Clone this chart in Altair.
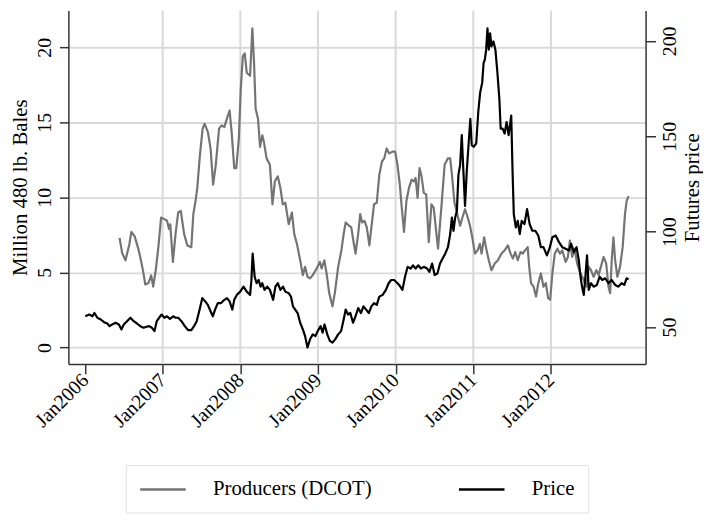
import altair as alt
import pandas as pd

# ---- data (decimal year, value) ----
producers = [
    (2006.445, 7.3), (2006.478, 6.3), (2006.521, 5.8), (2006.572, 6.9), (2006.597, 7.7),
    (2006.640, 7.4), (2006.690, 6.5), (2006.725, 5.7), (2006.754, 4.9), (2006.776, 4.2),
    (2006.818, 4.3), (2006.852, 4.8), (2006.878, 4.05), (2006.911, 5.15), (2006.945, 6.7),
    (2006.980, 8.66), (2007.022, 8.55), (2007.056, 8.44), (2007.082, 7.9), (2007.098, 8.2),
    (2007.132, 5.7), (2007.166, 7.57), (2007.200, 9.0), (2007.234, 9.1), (2007.276, 7.57),
    (2007.318, 6.8), (2007.369, 6.68), (2007.395, 8.88), (2007.420, 9.64), (2007.446, 10.63),
    (2007.480, 12.83), (2007.515, 14.58), (2007.540, 14.9), (2007.582, 14.36), (2007.617, 13.26),
    (2007.650, 10.85), (2007.684, 12.17), (2007.726, 14.58), (2007.760, 14.8), (2007.795, 14.69),
    (2007.820, 15.13), (2007.862, 15.79), (2007.888, 14.36), (2007.922, 11.95), (2007.948, 11.95),
    (2007.981, 13.92), (2008.006, 17.21), (2008.032, 19.4), (2008.057, 19.6), (2008.083, 18.3),
    (2008.126, 18.1), (2008.155, 21.27), (2008.177, 18.97), (2008.197, 15.9), (2008.228, 15.24),
    (2008.254, 13.37), (2008.283, 14.14), (2008.304, 13.7), (2008.338, 12.6), (2008.381, 12.17),
    (2008.414, 9.54), (2008.445, 11.07), (2008.483, 11.4), (2008.516, 10.63), (2008.547, 9.54),
    (2008.580, 9.64), (2008.623, 8.22), (2008.665, 8.99), (2008.694, 7.57), (2008.729, 6.9),
    (2008.771, 5.81), (2008.805, 4.82), (2008.834, 5.37), (2008.865, 4.71), (2008.898, 4.6),
    (2008.933, 4.82), (2008.983, 5.26), (2009.025, 5.7), (2009.047, 5.26), (2009.082, 5.81),
    (2009.111, 4.93), (2009.145, 3.62), (2009.187, 2.74), (2009.217, 3.62), (2009.260, 5.37),
    (2009.302, 6.47), (2009.331, 7.57), (2009.357, 8.33), (2009.400, 8.11), (2009.429, 8.0),
    (2009.459, 7.01), (2009.484, 6.25), (2009.518, 7.57), (2009.544, 8.88), (2009.569, 8.33),
    (2009.599, 8.44), (2009.629, 8.0), (2009.662, 6.8), (2009.688, 8.0), (2009.722, 9.54),
    (2009.757, 9.64), (2009.790, 11.51), (2009.824, 12.39), (2009.854, 12.6), (2009.884, 13.26),
    (2009.917, 12.93), (2009.961, 13.05), (2009.994, 13.05), (2010.024, 12.17), (2010.054, 10.85),
    (2010.079, 9.32), (2010.108, 7.7), (2010.139, 9.76), (2010.172, 10.63), (2010.206, 11.18),
    (2010.236, 11.07), (2010.257, 11.29), (2010.283, 9.97), (2010.308, 11.95), (2010.334, 11.4),
    (2010.363, 10.3), (2010.394, 10.2), (2010.427, 7.01), (2010.461, 9.54), (2010.490, 9.32),
    (2010.546, 6.58), (2010.589, 9.32), (2010.631, 12.17), (2010.674, 12.6), (2010.703, 12.6),
    (2010.725, 11.51), (2010.758, 9.64), (2010.789, 8.99), (2010.831, 8.11), (2010.860, 8.66),
    (2010.894, 9.21), (2010.929, 8.66), (2010.958, 8.11), (2010.987, 7.34), (2011.022, 6.25),
    (2011.056, 6.47), (2011.085, 6.9), (2011.107, 6.25), (2011.140, 7.34), (2011.171, 6.47),
    (2011.200, 5.81), (2011.234, 5.15), (2011.276, 5.59), (2011.318, 5.81), (2011.362, 6.25),
    (2011.404, 6.47), (2011.446, 6.8), (2011.480, 6.25), (2011.510, 5.92), (2011.540, 6.36),
    (2011.573, 5.81), (2011.608, 6.36), (2011.637, 6.25), (2011.667, 6.47), (2011.701, 6.68),
    (2011.722, 5.3), (2011.744, 4.28), (2011.777, 4.05), (2011.808, 3.39), (2011.837, 4.28),
    (2011.871, 4.93), (2011.904, 4.05), (2011.935, 4.28), (2011.964, 3.29), (2011.990, 3.18),
    (2012.019, 4.93), (2012.050, 6.25), (2012.083, 6.58), (2012.117, 6.25), (2012.146, 6.47),
    (2012.190, 5.7), (2012.219, 6.03), (2012.244, 7.12), (2012.274, 6.03), (2012.304, 6.58),
    (2012.338, 5.59), (2012.381, 4.93), (2012.423, 4.49), (2012.457, 4.05), (2012.487, 5.37),
    (2012.516, 5.15), (2012.550, 4.71), (2012.585, 5.15), (2012.614, 4.82), (2012.643, 5.37),
    (2012.678, 6.03), (2012.712, 5.59), (2012.741, 4.05), (2012.763, 3.62), (2012.783, 5.81),
    (2012.805, 7.34), (2012.827, 5.81), (2012.856, 4.71), (2012.890, 5.37), (2012.924, 6.68),
    (2012.954, 8.88), (2012.975, 9.76), (2013.000, 10.09),
]

price = [
    (2006.003, 55.7), (2006.054, 56.6), (2006.096, 55.7), (2006.121, 57.4), (2006.159, 54.9),
    (2006.203, 54.0), (2006.245, 52.6), (2006.287, 51.9), (2006.317, 50.5), (2006.350, 51.4),
    (2006.394, 52.3), (2006.436, 51.4), (2006.470, 48.8), (2006.499, 51.4), (2006.541, 53.1),
    (2006.585, 54.9), (2006.627, 53.1), (2006.669, 51.9), (2006.712, 50.5), (2006.754, 49.7),
    (2006.792, 50.2), (2006.827, 50.5), (2006.860, 49.7), (2006.894, 47.9), (2006.924, 53.1),
    (2006.954, 54.9), (2006.987, 56.6), (2007.022, 54.9), (2007.056, 55.7), (2007.094, 54.3),
    (2007.136, 55.7), (2007.166, 54.9), (2007.200, 54.9), (2007.242, 53.1), (2007.285, 50.5),
    (2007.327, 48.4), (2007.369, 48.4), (2007.404, 50.5), (2007.438, 53.1), (2007.476, 59.2),
    (2007.510, 65.2), (2007.548, 63.5), (2007.582, 61.7), (2007.617, 58.3), (2007.646, 55.7),
    (2007.675, 59.2), (2007.710, 62.6), (2007.752, 62.6), (2007.795, 64.3), (2007.828, 65.2),
    (2007.862, 63.5), (2007.897, 59.2), (2007.922, 64.3), (2007.955, 66.9), (2007.999, 68.6),
    (2008.041, 71.2), (2008.083, 68.6), (2008.126, 66.9), (2008.143, 74.7), (2008.159, 88.5),
    (2008.185, 76.4), (2008.210, 73.0), (2008.236, 74.7), (2008.261, 71.2), (2008.283, 73.0),
    (2008.312, 69.5), (2008.347, 71.2), (2008.381, 69.5), (2008.423, 64.3), (2008.452, 71.2),
    (2008.483, 73.0), (2008.516, 69.5), (2008.550, 71.2), (2008.580, 68.6), (2008.623, 67.8),
    (2008.652, 66.0), (2008.678, 60.9), (2008.707, 59.2), (2008.738, 57.4), (2008.771, 52.3),
    (2008.805, 48.8), (2008.834, 45.3), (2008.865, 39.3), (2008.898, 43.6), (2008.933, 46.2),
    (2008.967, 45.3), (2008.996, 47.9), (2009.034, 50.5), (2009.060, 47.1), (2009.085, 51.4),
    (2009.120, 46.2), (2009.153, 42.8), (2009.187, 41.9), (2009.222, 43.6), (2009.260, 46.2),
    (2009.298, 47.9), (2009.331, 54.0), (2009.357, 59.2), (2009.387, 56.6), (2009.417, 57.4),
    (2009.451, 52.3), (2009.484, 55.7), (2009.518, 60.0), (2009.553, 57.4), (2009.586, 60.9),
    (2009.620, 59.2), (2009.655, 57.4), (2009.688, 60.9), (2009.722, 62.6), (2009.757, 61.7),
    (2009.790, 66.0), (2009.833, 66.9), (2009.875, 69.5), (2009.910, 73.0), (2009.943, 74.7),
    (2009.981, 74.7), (2010.024, 73.0), (2010.045, 72.1), (2010.088, 69.5), (2010.121, 76.4),
    (2010.155, 81.6), (2010.194, 80.7), (2010.223, 82.4), (2010.257, 80.7), (2010.292, 82.4),
    (2010.325, 80.7), (2010.363, 81.6), (2010.406, 80.7), (2010.436, 79.0), (2010.470, 83.3),
    (2010.503, 77.3), (2010.538, 78.1), (2010.572, 83.3), (2010.605, 85.9), (2010.639, 88.5),
    (2010.674, 91.9), (2010.703, 98.8), (2010.725, 107.4), (2010.745, 100.5), (2010.767, 107.4),
    (2010.789, 110.9), (2010.809, 129.9), (2010.831, 135.0), (2010.852, 150.6), (2010.873, 131.6),
    (2010.894, 113.5), (2010.916, 131.6), (2010.936, 143.6), (2010.962, 159.2), (2010.980, 145.4),
    (2011.005, 144.5), (2011.038, 146.2), (2011.064, 162.6), (2011.089, 173.0), (2011.115, 178.1),
    (2011.133, 188.5), (2011.149, 190.2), (2011.166, 195.4), (2011.183, 206.6), (2011.200, 195.4),
    (2011.217, 204.0), (2011.234, 197.1), (2011.260, 199.7), (2011.285, 195.4), (2011.311, 183.3),
    (2011.336, 169.5), (2011.353, 154.0), (2011.378, 154.0), (2011.404, 151.4), (2011.429, 157.5),
    (2011.455, 150.6), (2011.489, 160.9), (2011.506, 131.6), (2011.522, 109.2), (2011.548, 102.3),
    (2011.573, 105.7), (2011.599, 98.8), (2011.624, 105.7), (2011.659, 104.0), (2011.693, 111.8),
    (2011.726, 104.0), (2011.760, 100.5), (2011.799, 100.5), (2011.837, 98.0), (2011.871, 91.9),
    (2011.904, 91.9), (2011.948, 87.6), (2011.981, 91.1), (2012.019, 97.1), (2012.062, 98.0),
    (2012.104, 94.5), (2012.146, 91.9), (2012.190, 91.1), (2012.232, 90.2), (2012.261, 93.7),
    (2012.295, 89.3), (2012.330, 91.9), (2012.359, 85.0), (2012.381, 76.4), (2012.401, 71.2),
    (2012.423, 66.9), (2012.444, 76.4), (2012.465, 87.6), (2012.487, 69.5), (2012.516, 73.0),
    (2012.550, 71.2), (2012.592, 72.1), (2012.627, 76.4), (2012.661, 74.7), (2012.699, 75.6),
    (2012.741, 73.0), (2012.783, 74.7), (2012.827, 72.1), (2012.866, 71.2), (2012.911, 73.0),
    (2012.945, 72.1), (2012.975, 75.6), (2013.000, 75.0),
]

x_ticks = [2006, 2007, 2008, 2009, 2010, 2011, 2012]
grid_years = [2007, 2008, 2009, 2010, 2011, 2012]
left_ticks = [0, 5, 10, 15, 20]
right_ticks = [50, 100, 150, 200]
series_names = ["Producers (DCOT)", "Price"]
series_colors = ["#747474", "#000000"]

prod_df = pd.DataFrame(producers, columns=["t", "v"])
prod_df["series"] = series_names[0]
price_df = pd.DataFrame(price, columns=["t", "v"])
price_df["series"] = series_names[1]
grid_df = pd.DataFrame({"t": grid_years})

FONT = "Liberation Serif"
xscale = alt.Scale(domain=[2005.786, 2013.219], nice=False, zero=False)
xaxis = alt.Axis(values=x_ticks, grid=False, labelExpr="'Jan' + datum.value",
                 labelAngle=315, labelAlign="right", labelBaseline="middle",
                 tickSize=10, labelPadding=3)

color = alt.Color(
    "series:N",
    scale=alt.Scale(domain=series_names, range=series_colors),
    sort=series_names,
    legend=alt.Legend(
        orient="none", legendX=58, legendY=459, direction="horizontal", title=None,
        symbolType="M-2.3,0H2.3", symbolSize=400, symbolStrokeWidth=2.6,
        symbolOffset=13, labelOffset=39, columnPadding=82, padding=13,
        strokeColor="#e2e2e2", fillColor="white",
        labelFont=FONT, labelFontSize=21, labelColor="black", labelLimit=400,
    ),
)

grid = alt.Chart(grid_df).mark_rule(color="#d9d9d9", strokeWidth=2).encode(
    x=alt.X("t:Q", scale=xscale, axis=xaxis, title=None)
)

prod_line = alt.Chart(prod_df).mark_line(strokeWidth=2.2, strokeJoin="round").encode(
    x=alt.X("t:Q", scale=xscale, axis=xaxis, title=None),
    y=alt.Y("v:Q", scale=alt.Scale(domain=[-1.1, 22.45], nice=False, zero=False),
            axis=alt.Axis(values=left_ticks, grid=True, gridColor="#d9d9d9", gridWidth=2,
                          labelAngle=270, labelAlign="center", labelBaseline="bottom",
                          labelPadding=5.5, tickSize=9, titlePadding=4),
            title="Million 480 lb. Bales"),
    color=color,
)

price_line = alt.Chart(price_df).mark_line(strokeWidth=2.2, strokeJoin="round").encode(
    x=alt.X("t:Q", scale=xscale, axis=xaxis, title=None),
    y=alt.Y("v:Q", scale=alt.Scale(domain=[30.7, 215.9], nice=False, zero=False),
            axis=alt.Axis(orient="right", values=right_ticks, grid=False,
                          labelAngle=270, labelAlign="center", labelBaseline="top",
                          labelPadding=4.5, tickSize=10, titleAngle=270, titleBaseline="top",
                          titlePadding=2),
            title="Futures price"),
    color=color,
)

chart = (
    alt.layer(grid, prod_line, price_line)
    .resolve_scale(y="independent")
    .properties(width=583, height=357, autosize=alt.AutoSizeParams(type="none"),
                padding={"left": 61, "top": 0, "right": 58, "bottom": 149})
    .configure(font=FONT)
    .configure_axis(labelFont=FONT, titleFont=FONT, labelFontSize=20, titleFontSize=21,
                    labelColor="black", titleColor="black", titleFontWeight="normal",
                    domainColor="#333333", tickColor="#333333", domainWidth=1.5, tickWidth=1.5)
    .configure_view(stroke=None)
)

chart.save("out.html", embed_options={"renderer": "svg", "actions": False})
